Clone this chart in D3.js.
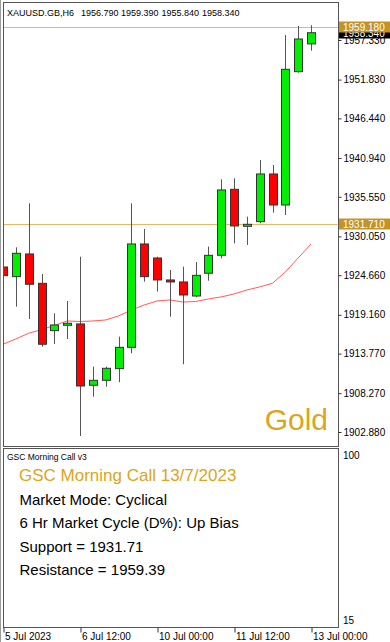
<!DOCTYPE html>
<html><head><meta charset="utf-8">
<script src="https://cdn.jsdelivr.net/npm/d3@7"></script>
<style>html,body{margin:0;padding:0;background:#fff;}svg{display:block;}</style>
</head><body>
<svg id="c" width="390" height="642"></svg>
<script>
// ---- data ----
const symbolHeader = ["XAUUSD.GB,H6", "1956.790", "1959.390", "1955.840", "1958.340"];
const times = ["5 Jul 00:00","5 Jul 06:00","5 Jul 12:00","5 Jul 18:00","6 Jul 00:00","6 Jul 06:00","6 Jul 12:00","6 Jul 18:00",
  "7 Jul 00:00","7 Jul 06:00","7 Jul 12:00","7 Jul 18:00","10 Jul 00:00","10 Jul 06:00","10 Jul 12:00","10 Jul 18:00",
  "11 Jul 00:00","11 Jul 06:00","11 Jul 12:00","11 Jul 18:00","12 Jul 00:00","12 Jul 06:00","12 Jul 12:00","12 Jul 18:00","13 Jul 00:00"];
const open  = [1925.80,1924.46,1927.61,1923.53,1916.96,1917.70,1917.89,1909.37,1910.06,1911.68,1914.64,1929.00,1927.05,1924.00,1923.72,1921.77,1924.93,1927.43,1936.59,1931.45,1932.10,1938.72,1934.41,1952.93,1956.79];
const high  = [1926.80,1928.53,1934.64,1924.83,1919.37,1921.08,1927.23,1911.96,1911.96,1916.13,1934.64,1931.08,1927.23,1925.39,1925.84,1926.50,1928.63,1937.98,1938.12,1932.79,1940.66,1939.97,1958.02,1959.27,1959.39];
const low   = [1922.70,1920.29,1918.58,1914.73,1915.11,1915.80,1902.33,1907.79,1909.18,1909.79,1913.82,1923.76,1922.38,1918.90,1912.29,1921.60,1923.90,1927.00,1929.09,1928.86,1931.87,1933.35,1933.02,1952.79,1955.84];
const close = [1924.60,1927.70,1923.40,1915.07,1917.75,1917.98,1909.27,1910.06,1911.73,1914.64,1929.00,1924.46,1924.00,1923.72,1921.91,1924.64,1927.42,1936.50,1931.50,1931.73,1938.72,1934.41,1953.26,1957.47,1958.34];
const movingAvg = [1915.07,1915.80,1916.60,1917.10,1917.68,1918.30,1918.23,1918.30,1918.44,1919.00,1919.83,1920.52,1921.08,1921.22,1920.94,1921.00,1921.36,1921.64,1922.05,1922.60,1923.03,1923.54,1925.10,1927.05,1928.99];
const priceTicks = [1957.33,1951.83,1946.44,1940.94,1935.55,1930.05,1924.66,1919.16,1913.77,1908.27,1902.88];
const timeTickIndex = [0,6,12,18,24];
const timeTickLabels = ["5 Jul 2023","6 Jul 12:00","10 Jul 00:00","11 Jul 12:00","13 Jul 00:00"];
const levelLines = [1959.18, 1931.71];
const currentPrice = 1958.34;
const indicatorName = "GSC Morning Call v3";
const panelTitle = "GSC Morning Call 13/7/2023";
const panelLines = ["Market Mode: Cyclical","6 Hr Market Cycle (D%): Up Bias","Support = 1931.71","Resistance = 1959.39"];
const indicatorScale = ["100","15"];
const watermark = "Gold";

// ---- layout ----
const svg = d3.select("#c");
const L = 3, R = 338, T = 2, B = 446, T2 = 448, B2 = 627;
const axisFont = "Liberation Sans, Arial, sans-serif";
const gold = "#DAA520", goldBox = "#c39327", lineGold = "#e2b86a";

const x = d3.scaleLinear().domain([0, times.length - 1]).range([3, 311]);
const y = d3.scaleLinear().domain([1902.88, 1957.33]).range([432, 40]);

// window frame
svg.append("line").attr("x1",0.5).attr("x2",0.5).attr("y1",0).attr("y2",642).attr("stroke","#9a9a9a");

// clip
svg.append("clipPath").attr("id","clipMain").append("rect").attr("x",L+0.5).attr("y",T+0.5).attr("width",R-L-1).attr("height",B-T-1);

const main = svg.append("g").attr("clip-path","url(#clipMain)");

// header
const hx = [7, 81, 121, 161.5, 202];
svg.append("g").selectAll("text").data(symbolHeader).join("text")
  .attr("x",(d,i)=>hx[i]).attr("y",16).attr("font-family",axisFont).attr("font-size",9).attr("fill","#000").text(d=>d);

// level lines
main.selectAll("line.lvl").data(levelLines).join("line").attr("class","lvl")
  .attr("x1",L).attr("x2",R).attr("y1",d=>Math.round(y(d))+0.5).attr("y2",d=>Math.round(y(d))+0.5)
  .attr("stroke",lineGold).attr("stroke-width",1);

// watermark
main.append("text").attr("x",328).attr("y",430).attr("text-anchor","end")
  .attr("font-family","Liberation Sans, Arial, sans-serif").attr("font-size",30).attr("fill",gold).text(watermark);

// moving average
const maLine = d3.line().x((d,i)=>x(i)).y(d=>y(d)).curve(d3.curveLinear);
main.append("path").datum(movingAvg).attr("d",maLine).attr("fill","none").attr("stroke","#ff5a5a").attr("stroke-width",1);

// candles
const idx = d3.range(times.length);
const cw = 8;
const cg = main.append("g");
cg.selectAll("line.wick").data(idx).join("line").attr("class","wick")
  .attr("x1",i=>Math.round(x(i))+0.5).attr("x2",i=>Math.round(x(i))+0.5)
  .attr("y1",i=>y(high[i])).attr("y2",i=>y(low[i])).attr("stroke","#555").attr("stroke-width",1);
cg.selectAll("rect.body").data(idx).join("rect").attr("class","body")
  .attr("x",i=>Math.round(x(i))-cw/2+0.5)
  .attr("y",i=>y(Math.max(open[i],close[i])))
  .attr("width",cw)
  .attr("height",i=>Math.max(1,Math.abs(y(open[i])-y(close[i]))))
  .attr("fill",i=>close[i]>=open[i]?"#00ee00":"#ff0000")
  .attr("stroke","#333").attr("stroke-width",1);

// panel borders
svg.append("rect").attr("x",L+0.5).attr("y",T+0.5).attr("width",R-L).attr("height",B-T).attr("fill","none").attr("stroke","#555");
svg.append("rect").attr("x",L+0.5).attr("y",T2+0.5).attr("width",R-L).attr("height",B2-T2).attr("fill","none").attr("stroke","#555");

// price axis
const yAxis = d3.axisRight(y).tickValues(priceTicks).tickFormat(d3.format(".3f")).tickSize(3).tickPadding(2);
const ya = svg.append("g").attr("transform",`translate(${R+0.5},0)`).call(yAxis);
ya.select(".domain").remove();
ya.selectAll("line").attr("stroke","#333");
ya.selectAll("text").attr("font-family",axisFont).attr("font-size",10).attr("fill","#000");

// price markers
const markers = [{v:currentPrice, bg:"#000"}, {v:levelLines[0], bg:goldBox}, {v:levelLines[1], bg:goldBox}];
const mg = svg.append("g").selectAll("g").data(markers).join("g").attr("transform",d=>`translate(${R+1},${Math.round(y(d.v))})`);
mg.append("rect").attr("x",0).attr("y",-5.5).attr("width",52).attr("height",11).attr("fill",d=>d.bg);
mg.append("text").attr("x",4).attr("y",4).attr("font-family",axisFont).attr("font-size",10).attr("fill","#fff").text(d=>d3.format(".3f")(d.v));

// time axis
const xAxis = d3.axisBottom(x).tickValues(timeTickIndex).tickFormat((d,i)=>timeTickLabels[i]).tickSize(5).tickPadding(2);
const xa = svg.append("g").attr("transform",`translate(0.5,${B2+0.5})`).call(xAxis);
xa.select(".domain").remove();
xa.selectAll("line").attr("stroke","#333");
xa.selectAll("text").attr("text-anchor","start").attr("dx",1).attr("y",5).attr("dy","0.71em")
  .attr("font-family",axisFont).attr("font-size",10).attr("fill","#000");

// indicator panel
svg.append("text").attr("x",7).attr("y",460).attr("font-family",axisFont).attr("font-size",8.5).attr("fill","#000").text(indicatorName);
svg.append("text").attr("x",19).attr("y",481).attr("font-family","Liberation Sans, Arial, sans-serif").attr("font-size",17).attr("fill",gold).text(panelTitle);
svg.append("g").selectAll("text").data(panelLines).join("text")
  .attr("x",19.5).attr("y",(d,i)=>505+i*23.3).attr("font-family","Liberation Sans, Arial, sans-serif").attr("font-size",15).attr("fill","#000").text(d=>d);
svg.append("g").selectAll("text").data(indicatorScale).join("text")
  .attr("x",343).attr("y",(d,i)=>i===0?459:624).attr("font-family",axisFont).attr("font-size",10).attr("fill","#000").text(d=>d);
</script>
</body></html>
